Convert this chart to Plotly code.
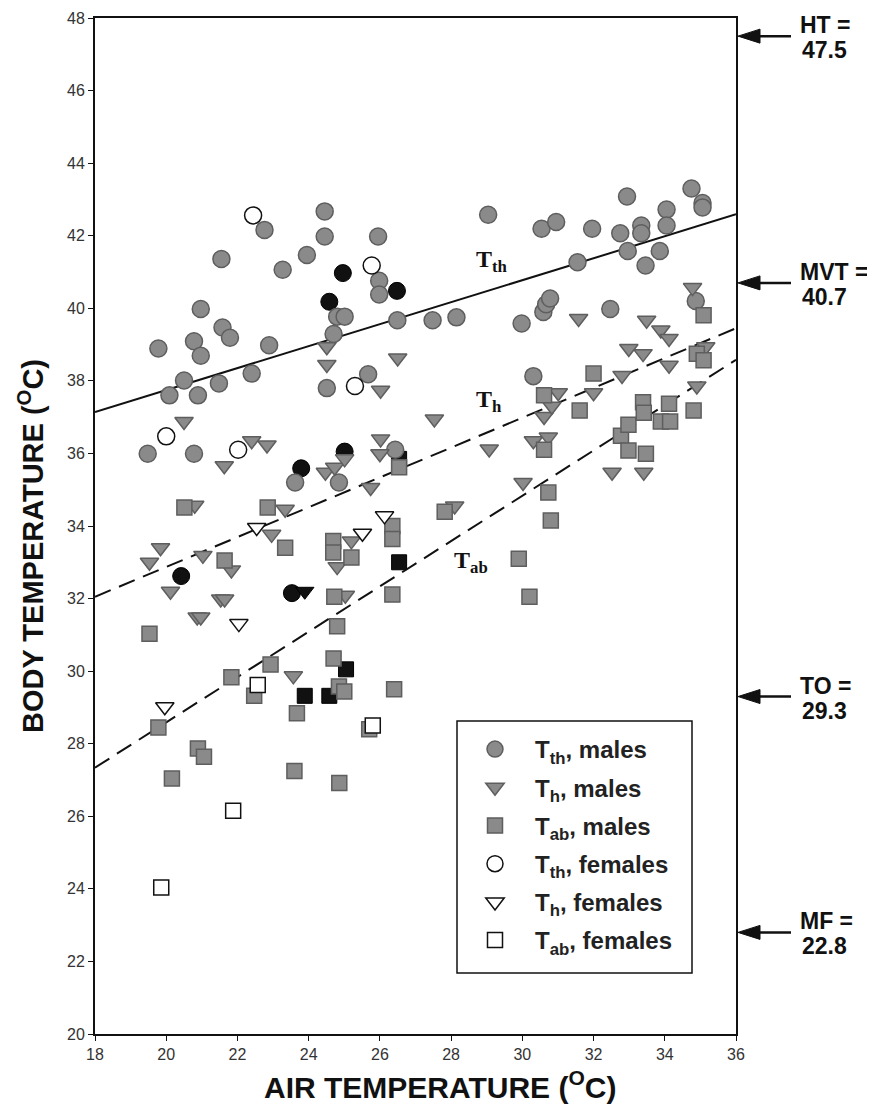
import plotly.graph_objects as go

# ---------------- data ----------------
tth_m_x = [19.48, 19.78, 20.09, 20.50, 20.78, 20.78, 20.89, 20.97, 20.97, 21.48, 21.55, 21.58, 21.79, 22.40,
           22.76, 22.89, 23.27, 23.62, 23.95, 24.45, 24.45, 24.51, 24.70, 24.80, 25.01, 24.85, 25.67, 25.95,
           25.98, 25.98, 26.43, 26.49, 27.48, 28.15, 29.04, 29.98, 30.31, 30.54, 30.59, 30.67, 30.78, 30.95,
           31.55, 31.96, 32.47, 32.75, 32.94, 32.96, 33.34, 33.34, 33.46, 33.86, 34.05, 34.05, 34.75, 34.87,
           35.06, 35.06]
tth_m_y = [35.99, 38.89, 37.60, 38.01, 39.09, 35.99, 37.60, 39.98, 38.69, 37.93, 41.36, 39.47, 39.19, 38.20,
           42.16, 38.98, 41.06, 35.20, 41.47, 42.67, 41.98, 37.80, 39.29, 39.77, 39.77, 35.20, 38.18, 41.98,
           40.76, 40.38, 36.10, 39.67, 39.67, 39.75, 42.58, 39.58, 38.13, 42.19, 39.90, 40.11, 40.27, 42.38,
           41.27, 42.19, 39.98, 42.07, 43.08, 41.58, 42.28, 42.07, 41.18, 41.58, 42.72, 42.28, 43.30, 40.20,
           42.90, 42.78]

th_m_x = [19.53, 19.84, 20.12, 20.50, 20.80, 20.87, 20.97, 21.03, 21.53, 21.64, 21.63, 21.83, 22.40, 22.83,
          22.96, 23.34, 23.57, 24.47, 24.51, 24.51, 24.73, 24.80, 25.01, 25.03, 25.20, 25.74, 26.00, 26.02,
          26.02, 26.50, 27.53, 28.10, 29.07, 30.02, 30.31, 30.73, 30.61, 30.83, 31.01, 31.58, 32.00, 32.52,
          32.80, 32.99, 33.39, 33.41, 33.49, 33.89, 34.12, 34.12, 34.78, 34.90, 35.15]
th_m_y = [33.00, 33.40, 32.20, 36.88, 34.57, 31.49, 31.49, 33.19, 31.99, 31.99, 35.66, 32.79, 36.35, 36.23,
          33.77, 34.46, 29.87, 35.48, 38.94, 38.45, 35.62, 32.88, 35.85, 32.09, 33.59, 35.06, 35.99, 36.40,
          37.74, 38.63, 36.95, 34.55, 36.12, 35.20, 36.35, 36.45, 37.02, 37.30, 37.67, 39.72, 37.67, 35.48,
          38.15, 38.89, 38.75, 35.48, 39.67, 39.40, 39.17, 38.43, 40.57, 37.86, 38.94]

tab_m_x = [19.53, 19.78, 20.16, 20.51, 20.89, 21.06, 21.64, 21.83, 22.47, 22.85, 22.93, 23.34, 23.60, 23.67,
           24.69, 24.69, 24.72, 24.70, 24.80, 24.85, 25.00, 24.86, 25.20, 25.70, 26.35, 26.35, 26.35, 26.40,
           26.54, 27.82, 29.90, 30.20, 30.61, 30.61, 30.73, 30.80, 31.61, 32.00, 32.77, 32.98, 32.98, 33.39,
           33.41, 33.47, 33.89, 34.12, 34.15, 34.81, 34.90, 35.09, 35.09]
tab_m_y = [31.03, 28.45, 27.04, 34.51, 27.87, 27.64, 33.05, 29.83, 29.32, 34.51, 30.18, 33.40, 27.25, 28.84,
           33.59, 33.27, 32.05, 30.35, 31.24, 29.58, 29.44, 26.92, 33.13, 28.40, 34.00, 33.64, 32.11, 29.50,
           35.62, 34.39, 33.10, 32.05, 36.10, 37.60, 34.92, 34.15, 37.18, 38.20, 36.49, 36.79, 36.08, 37.41,
           37.12, 35.99, 36.88, 37.37, 36.88, 37.18, 38.75, 38.57, 39.81]

tth_f_x = [20.00, 22.02, 22.44, 25.30, 25.77]
tth_f_y = [36.47, 36.10, 42.56, 37.86, 41.18]
th_f_x = [19.96, 22.04, 22.54, 25.51, 26.13]
th_f_y = [29.02, 31.31, 33.96, 33.80, 34.28]
tab_f_x = [19.86, 21.88, 22.57, 25.80]
tab_f_y = [24.04, 26.15, 29.62, 28.50]

blk_c_x = [20.42, 23.53, 23.79, 24.58, 24.96, 25.01, 26.48]
blk_c_y = [32.62, 32.15, 35.59, 40.18, 40.97, 36.05, 40.48]
blk_t_x = [23.89]
blk_t_y = [32.20]
blk_s_x = [23.89, 24.58, 25.05, 26.54, 26.54]
blk_s_y = [29.32, 29.32, 30.05, 33.00, 35.85]

line_x = [18, 36]
tth_line = [37.14, 42.59]
th_line = [32.05, 39.45]
tab_line = [27.34, 38.58]

x_ticks = [18, 20, 22, 24, 26, 28, 30, 32, 34, 36]
y_ticks = list(range(20, 49, 2))

thresh_names = ["HT", "MVT", "TO", "MF"]
thresh_vals = [47.5, 40.7, 29.3, 22.8]

# ---------------- figure ----------------
W, H = 875, 1108
ML, MR, MT, MB = 87, 147, 10, 82
PW, PH = W - ML - MR, H - MT - MB
GRAY = "#8a8a8a"
EDGE = "#5e5e5e"
SANS = "Liberation Sans, Arial, sans-serif"


def px_x(px):   # pixel column -> paper x
    return (px - ML) / PW


def px_y(py):   # pixel row -> paper y
    return (H - MB - py) / PH


fig = go.Figure()

# black (unlisted) markers first, underneath
fig.add_trace(go.Scatter(x=blk_c_x, y=blk_c_y, mode="markers", showlegend=False,
                         marker=dict(symbol="circle", size=17, color="#111", line=dict(color="#000", width=1))))
fig.add_trace(go.Scatter(x=blk_t_x, y=blk_t_y, mode="markers", showlegend=False,
                         marker=dict(symbol="triangle-down", size=16, color="#111", line=dict(color="#000", width=1))))
fig.add_trace(go.Scatter(x=blk_s_x, y=blk_s_y, mode="markers", showlegend=False,
                         marker=dict(symbol="square", size=15, color="#111", line=dict(color="#000", width=1))))

# regression lines
fig.add_trace(go.Scatter(x=line_x, y=tth_line, mode="lines", showlegend=False,
                         line=dict(color="#111", width=2)))
fig.add_trace(go.Scatter(x=line_x, y=th_line, mode="lines", showlegend=False,
                         line=dict(color="#111", width=2, dash="17px,9px")))
fig.add_trace(go.Scatter(x=line_x, y=tab_line, mode="lines", showlegend=False,
                         line=dict(color="#111", width=2, dash="17px,9px")))

series = [
    ("<b>T<sub>th</sub>, males</b>", tth_m_x, tth_m_y, "circle", 17, GRAY, EDGE),
    ("<b>T<sub>h</sub>, males</b>", th_m_x, th_m_y, "triangle-down", 16, GRAY, EDGE),
    ("<b>T<sub>ab</sub>, males</b>", tab_m_x, tab_m_y, "square", 15, GRAY, EDGE),
    ("<b>T<sub>th</sub>, females</b>", tth_f_x, tth_f_y, "circle", 17, "white", "#111"),
    ("<b>T<sub>h</sub>, females</b>", th_f_x, th_f_y, "triangle-down", 16, "white", "#111"),
    ("<b>T<sub>ab</sub>, females</b>", tab_f_x, tab_f_y, "square", 15, "white", "#111"),
]
for i, (name, xs, ys, sym, sz, fc, lc) in enumerate(series):
    fig.add_trace(go.Scatter(x=xs, y=ys, mode="markers", name=name, legendgroup=f"g{i}",
                             marker=dict(symbol=sym, size=sz, color=fc,
                                         line=dict(color=lc, width=1.5))))

# line labels
lab_font = dict(family="Liberation Serif, Times New Roman, serif", size=24, color="#111")
fig.add_annotation(x=29.15, y=41.3, text="<b>T<sub>th</sub></b>", showarrow=False, font=lab_font)
fig.add_annotation(x=29.05, y=37.45, text="<b>T<sub>h</sub></b>", showarrow=False, font=lab_font)
fig.add_annotation(x=28.55, y=33.0, text="<b>T<sub>ab</sub></b>", showarrow=False, font=lab_font)

# threshold arrows (shapes) & labels on the right
dy = (48 - 20) / PH            # data units per pixel (y)
tip = px_x(730)
head = 22 / PW
tail = px_x(783)
for nm, v in zip(thresh_names, thresh_vals):
    fig.add_shape(type="line", xref="paper", yref="y", x0=tip + head * 0.8, x1=tail, y0=v, y1=v,
                  line=dict(color="#111", width=2.5))
    fig.add_shape(type="path", xref="paper", yref="y", fillcolor="#111", line=dict(color="#111", width=1),
                  path=f"M {tip},{v} L {tip + head},{v + 7 * dy} L {tip + head},{v - 7 * dy} Z")
    fig.add_annotation(x=px_x(790), y=v, xref="paper", yref="y", xanchor="left", yanchor="middle",
                       yshift=11, showarrow=False, text=f"<b>{nm} =</b>",
                       font=dict(family=SANS, size=23, color="#111"))
    fig.add_annotation(x=px_x(792), y=v, xref="paper", yref="y", xanchor="left", yanchor="middle",
                       yshift=-14, showarrow=False, text=f"<b>{v}</b>",
                       font=dict(family=SANS, size=23, color="#111"))

# axis titles as annotations
fig.add_annotation(x=px_x(432), y=px_y(1077), xref="paper", yref="paper", xanchor="center", yanchor="middle",
                   text="<b>AIR TEMPERATURE (<sup>O</sup>C)</b>", showarrow=False,
                   font=dict(family=SANS, size=30, color="#111"))
fig.add_annotation(x=px_x(23), y=px_y(538), xref="paper", yref="paper", xanchor="center", yanchor="middle",
                   text="<b>BODY TEMPERATURE (<sup>O</sup>C)</b>", showarrow=False, textangle=-90,
                   font=dict(family=SANS, size=29, color="#111"))

# legend frame
fig.add_shape(type="rect", xref="paper", yref="paper", x0=px_x(449), x1=px_x(684), y0=px_y(965), y1=px_y(713),
              line=dict(color="#111", width=1.5), fillcolor="rgba(0,0,0,0)", layer="above")

axis_common = dict(showline=True, linecolor="#111", linewidth=2, mirror=True, showgrid=False,
                   zeroline=False, ticks="outside", ticklen=5, tickcolor="#111", tickwidth=1,
                   automargin=False,
                   tickfont=dict(family=SANS, size=16, color="#333"))

fig.update_layout(
    width=W, height=H,
    margin=dict(l=ML, r=MR, t=MT, b=MB),
    plot_bgcolor="white", paper_bgcolor="white",
    xaxis=dict(range=[18, 36], tickvals=x_ticks, **axis_common),
    yaxis=dict(range=[20, 48], tickvals=y_ticks, **axis_common),
    legend=dict(x=px_x(447), y=px_y(719), xanchor="left", yanchor="top",
                borderwidth=0, bgcolor="rgba(255,255,255,0)", tracegroupgap=4, itemwidth=70,
                font=dict(family=SANS, size=24, color="#222")),
)

fig.write_html("out.html")
